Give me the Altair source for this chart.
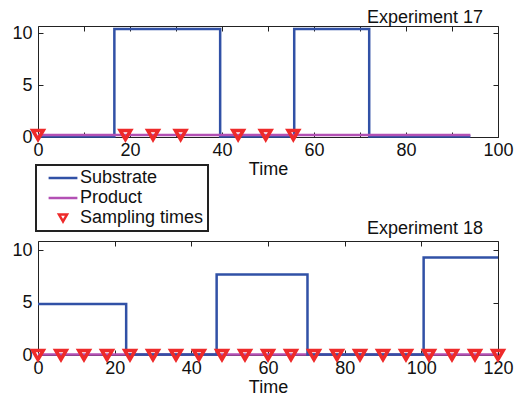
import altair as alt
import pandas as pd

FONT = "Liberation Sans"
series = ["Substrate", "Product", "Sampling times"]
colors = ["#3151A6", "#B350B4", "#EE2A2A"]
shapes = ["M-3.6,0H3.6", "M-3.6,0H3.6", "triangle-down"]

# Experiment 17
e17_sub_t = [0, 16.6, 39.6, 55.7, 72.0, 94.0]
e17_sub_v = [0.05, 10.4, 0.05, 10.4, 0.05, 0.05]
e17_prod_t = [0, 94.0]
e17_prod_v = [0.2, 0.2]
e17_samp_t = [0, 19, 25, 31, 43.5, 49.5, 55.5]
e17_xticks = [0, 10, 20, 30, 40, 50, 60, 70, 80, 90, 100]
e17_xlabels = [0, 20, 40, 60, 80, 100]

# Experiment 18
e18_sub_t = [0, 23.0, 46.6, 70.3, 100.6, 120]
e18_sub_v = [4.85, 0.05, 7.68, 0.05, 9.28, 9.28]
e18_prod_t = [0, 120]
e18_prod_v = [0.05, 0.05]
e18_samp_t = [0, 6, 12, 18, 24, 30, 36, 42, 48, 54, 60, 66, 72, 78, 84, 90, 96, 102, 108, 114, 120]
e18_xticks = [0, 20, 40, 60, 80, 100, 120]
e18_xlabels = [0, 20, 40, 60, 80, 100, 120]

yticks = [0, 5, 10]


def panel(sub_t, sub_v, prod_t, prod_v, samp_t, samp_y, xmax, ymax, xticks, xlabels,
          title, title_offset, height, with_legend, product_on_top):
    sub = pd.DataFrame({"t": sub_t, "v": sub_v, "series": "Substrate"})
    prod = pd.DataFrame({"t": prod_t, "v": prod_v, "series": "Product"})
    samp = pd.DataFrame({"t": samp_t, "v": [samp_y] * len(samp_t), "series": "Sampling times"})

    xs = alt.Scale(domain=[0, xmax], nice=False, zero=False)
    ys = alt.Scale(domain=[0, ymax], nice=False, zero=False)

    if with_legend:
        leg = alt.Legend(orient="none", legendX=-2, legendY=139, padding=4,
                         title="\u3000", titleOrient="right", titleFontSize=7, titlePadding=0,
                         strokeColor="#222", fillColor="white", symbolSize=64,
                         symbolStrokeWidth=2.5, symbolOffset=14, labelOffset=8,
                         rowPadding=2, labelFontSize=18, labelColor="#111", labelFont=FONT,
                         labelLimit=300)
    else:
        leg = None
    color = alt.Color("series:N", scale=alt.Scale(domain=series, range=colors), legend=leg)
    shape = alt.Shape("series:N", scale=alt.Scale(domain=series, range=shapes), legend=leg)

    ax_x_main = alt.Axis(orient="bottom", values=xlabels, title="Time", ticks=False, domain=False,
                         grid=False, labelPadding=4, titlePadding=1, labelFlush=False)
    ax_y_main = alt.Axis(orient="left", values=yticks, title=None, ticks=False, domain=False,
                         grid=False, labelPadding=6)
    ax_x_in_b = alt.Axis(orient="bottom", values=xticks, title=None, labels=False, domain=False,
                         grid=False, tickSize=5, offset=-5)
    ax_y_in_l = alt.Axis(orient="left", values=yticks, title=None, labels=False, domain=False,
                         grid=False, tickSize=5, offset=-5)
    ax_x_in_t = alt.Axis(orient="top", values=xticks, title=None, labels=False, domain=False,
                         grid=False, tickSize=5, offset=-5)
    ax_y_in_r = alt.Axis(orient="right", values=yticks, title=None, labels=False, domain=False,
                         grid=False, tickSize=5, offset=-5)

    sub_layer = alt.Chart(sub).mark_line(interpolate="step-after", strokeWidth=2.5).encode(
        x=alt.X("t:Q", scale=xs, axis=ax_x_in_b),
        y=alt.Y("v:Q", scale=ys, axis=ax_y_in_l),
        color=color,
    )
    prod_layer = alt.Chart(prod).mark_line(strokeWidth=2.5).encode(
        x=alt.X("t:Q", scale=xs, axis=ax_x_main),
        y=alt.Y("v:Q", scale=ys, axis=ax_y_main),
        color=color,
    )
    samp_layer = alt.Chart(samp).mark_point(filled=False, size=110, strokeWidth=3.5, opacity=1).encode(
        x=alt.X("t:Q", scale=xs, axis=ax_x_in_t),
        y=alt.Y("v:Q", scale=ys, axis=ax_y_in_r),
        color=color,
        shape=shape,
    )
    layers = [sub_layer, prod_layer, samp_layer] if product_on_top else [prod_layer, sub_layer, samp_layer]
    return alt.layer(*layers).resolve_axis(x="independent", y="independent").properties(
        width=460, height=height,
        title=alt.TitleParams(text=title, anchor="end", frame="group", offset=title_offset, dx=-15,
                              fontSize=18, fontWeight="normal", font=FONT, color="#111"),
    )


top = panel(e17_sub_t, e17_sub_v, e17_prod_t, e17_prod_v, e17_samp_t, 0.2, 100, 10.7,
            e17_xticks, e17_xlabels, "Experiment 17", -3, 111, True, True)
bottom = panel(e18_sub_t, e18_sub_v, e18_prod_t, e18_prod_v, e18_samp_t, 0.0, 120, 10.86,
               e18_xticks, e18_xlabels, "Experiment 18", 3, 114, False, False)

chart = alt.vconcat(top, bottom, spacing=104, bounds="flush").resolve_scale(
    color="independent", shape="independent"
).properties(
    padding={"left": 3, "top": 0, "right": 5, "bottom": 0}
).configure(
    font=FONT
).configure_view(
    stroke="#222", strokeWidth=1
).configure_axis(
    labelFont=FONT, titleFont=FONT, labelFontSize=18, titleFontSize=18,
    titleFontWeight="normal", labelColor="#111", titleColor="#111", tickColor="#222"
).configure_legend(
    strokeWidth=2
)

chart.save("out.html", embed_options={"renderer": "svg", "actions": False})
